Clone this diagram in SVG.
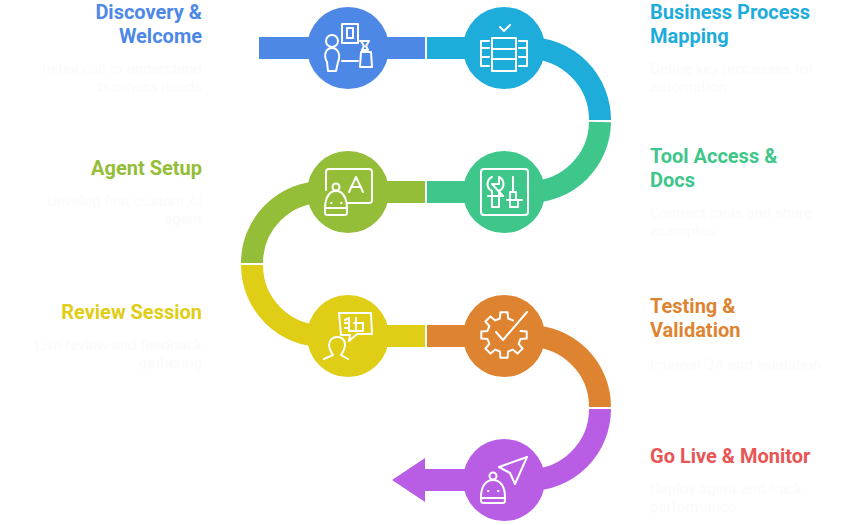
<svg xmlns="http://www.w3.org/2000/svg" width="852" height="525" viewBox="0 0 852 525">
<style>
text{font-family:Roboto,"Liberation Sans",sans-serif}
.t{font-size:20px;font-weight:700}
.d{font-size:15px;fill:#fbfbfb}
.e{text-anchor:end}
.p{fill:none;stroke-width:22}
.i{fill:none;stroke:#fff;stroke-width:2;stroke-linecap:round;stroke-linejoin:round}
</style>
<rect width="852" height="525" fill="#fff"/>
<g id="connectors">
<path class="p" stroke="#4e88e7" d="M259 48H425"/>
<path class="p" stroke="#1eacdb" d="M427 48H528A72 72 0 0 1 600 120"/>
<path class="p" stroke="#3fc68a" d="M600 122A71 71 0 0 1 529 192H427"/>
<path class="p" stroke="#94bd38" d="M425 192H323A71 71 0 0 0 252 263"/>
<path class="p" stroke="#e0cd15" d="M252 265A71 71 0 0 0 323 336H425"/>
<path class="p" stroke="#de8431" d="M427 336H529A71 71 0 0 1 600 407"/>
<path class="p" stroke="#b95ee4" d="M600 409A71 71 0 0 1 529 480H424"/>
<path fill="#b95ee4" d="M392 480L425 458V502Z"/>
</g>
<g id="n1"><circle cx="348" cy="48" r="41" fill="#4e88e7"/>
<path class="i" d="M342 24H358V43H342ZM347 28H353V38H347Z"/><circle class="i" cx="332" cy="41" r="6"/><path class="i" d="M328 71L327 62C323 55 326 48 332 48C338 48 341 55 338 62L336 71ZM342 61H358M361 52H371L372 67H360ZM360 41H369M361 41L364 46L362 50H368L366 46L369 41"/></g>
<g id="n2"><circle cx="504" cy="48" r="41" fill="#1eacdb"/>
<path class="i" d="M500 27L504 31L510 25M492 38H516V71H492ZM492 49H516M492 59H516M489 41H481V66H489M481 48H489M481 57H489M519 41H527V66H519M519 48H527M519 57H527"/></g>
<g id="n3"><circle cx="504" cy="192" r="41" fill="#3fc68a"/>
<path class="i" d="M481 172Q481 169 484 169H525Q528 169 528 172V212Q528 215 525 215H484Q481 215 481 212ZM492 177C486 180 486 188 492 191V196H488M503 196H499V191C505 188 505 180 499 177V184H492ZM492 196V207H499V196M488 196H503M513 177V192M510 192H516V200M510 192V200M507 200H522M510 200V207H518V200"/></g>
<g id="n4"><circle cx="348" cy="192" r="41" fill="#94bd38"/>
<path class="i" d="M326 190V172Q326 169 329 169H369Q372 169 372 172V200Q372 203 369 203H348M349 192L356 177L363 192M351 187H361"/><circle class="i" cx="336" cy="187" r="3.500"/><path class="i" d="M336 191C329 191 325 198 325 209C325 215 325 215 328 215H344C347 215 347 215 347 209C347 198 343 191 336 191ZM325 208H347M331 203H331.500M341 203H341.500"/></g>
<g id="n5"><circle cx="348" cy="336" r="41" fill="#e0cd15"/>
<path class="i" d="M339 313H371L372 334H357L349 341L350 335H341ZM349 318V331H363V323H354M349 323H345M349 328H345M356 318V331M345 320L349 318"/><path class="i" d="M324 359L333 355C331 352 329 349 329 345C329 340 333 337 337 337C342 337 345 340 345 345C345 349 343 352 341 355L348 359"/></g>
<g id="n6"><circle cx="504" cy="336" r="41" fill="#de8431"/>
<path class="i" d="M520.500 330.900L526.700 331.400V338.600L520.500 339.100L518.600 343.800L522.600 348.500L517.500 353.600L512.800 349.600L508.100 351.500L507.600 357.700H500.400L499.900 351.500L495.200 349.600L490.500 353.600L485.400 348.500L489.400 343.800L487.500 339.100L481.300 338.600V331.400L487.500 330.900L489.400 326.200L485.400 321.500L490.500 316.400L495.200 320.400L499.900 318.500L500.400 312.300H507.600L508.100 318.500L513 320.400"/><path class="i" d="M496 332L503 340L527 312"/></g>
<g id="n7"><circle cx="504" cy="480" r="41" fill="#b95ee4"/>
<path class="i" d="M527 457L499 467L510 473L515 484Z"/><circle class="i" cx="493" cy="476" r="3.500"/><path class="i" d="M493 480C486 480 481 486 481 497C481 503 481 503 484 503H502C505 503 505 503 505 497C505 486 500 480 493 480ZM481 498H505M488 491H488.500M498 491H498.500"/></g>
<g id="labels">
<text class="t e" x="202" y="19" fill="#4e88e7">Discovery &amp;</text>
<text class="t e" x="202" y="43" fill="#4e88e7">Welcome</text>
<text class="d e" x="202" y="74">Initial call to understand</text>
<text class="d e" x="202" y="92">business needs</text>
<text class="t" x="650" y="19" fill="#1eacdb">Business Process</text>
<text class="t" x="650" y="43" fill="#1eacdb">Mapping</text>
<text class="d" x="650" y="74">Define key processes for</text>
<text class="d" x="650" y="92">automation</text>
<text class="t" x="650" y="163" fill="#3fc68a">Tool Access &amp;</text>
<text class="t" x="650" y="187" fill="#3fc68a">Docs</text>
<text class="d" x="650" y="218">Connect tools and share</text>
<text class="d" x="650" y="236">examples</text>
<text class="t e" x="202" y="175" fill="#94bd38">Agent Setup</text>
<text class="d e" x="202" y="206">Develop first custom AI</text>
<text class="d e" x="202" y="224">agent</text>
<text class="t e" x="202" y="319" fill="#e0cd15">Review Session</text>
<text class="d e" x="202" y="350">Live review and feedback</text>
<text class="d e" x="202" y="368">gathering</text>
<text class="t" x="650" y="313" fill="#de8431">Testing &amp;</text>
<text class="t" x="650" y="337" fill="#de8431">Validation</text>
<text class="d" x="650" y="370">Internal QA and validation</text>
<text class="t" x="650" y="463" fill="#e85555">Go Live &amp; Monitor</text>
<text class="d" x="650" y="494">Deploy agent and track</text>
<text class="d" x="650" y="512">performance</text>
</g>
</svg>
